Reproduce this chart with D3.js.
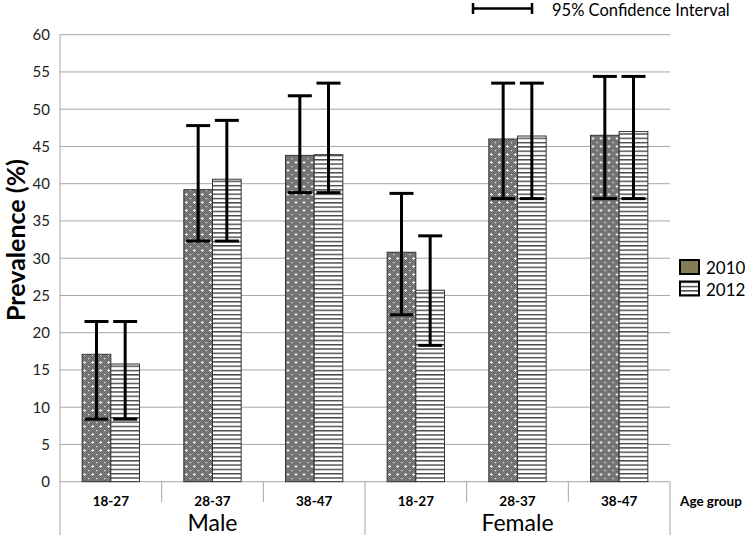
<!DOCTYPE html>
<html>
<head>
<meta charset="utf-8">
<script src="https://cdn.jsdelivr.net/npm/d3@7"></script>
<style>
body { margin: 0; background: #fff; }
svg { font-family: Lato, "Open Sans", sans-serif; }
</style>
</head>
<body>
<svg class="chart" width="745" height="535"></svg>
<script>
"use strict";
// data
var sexes = ["Male", "Female"];
var ageGroups = ["18-27", "28-37", "38-47", "18-27", "28-37", "38-47"];
var years = ["2010", "2012"];
var prev2010 = [17.1, 39.2, 43.8, 30.8, 46.0, 46.5];
var prev2012 = [15.8, 40.6, 43.9, 25.7, 46.4, 47.0];
var lo2010 = [8.4, 32.3, 38.8, 22.4, 38.0, 38.0];
var hi2010 = [21.5, 47.8, 51.8, 38.7, 53.5, 54.4];
var lo2012 = [8.4, 32.3, 38.8, 18.3, 38.0, 38.0];
var hi2012 = [21.5, 48.5, 53.5, 33.0, 53.5, 54.4];
var yTicks = [0, 5, 10, 15, 20, 25, 30, 35, 40, 45, 50, 55, 60];

var plotLeft = 60, plotRight = 670, plotTop = 34.7, plotBottom = 481.7;

var svg = d3.select(".chart");
var defs = svg.append("defs");

// dotted grey pattern for 2010
var p1 = defs.append("pattern").attr("id", "pat2010")
	.attr("patternUnits", "userSpaceOnUse").attr("width", 8).attr("height", 8);
p1.append("rect").attr("width", 8).attr("height", 8).attr("fill", "#8a8a8a");
for (var i = 0; i < 8; i++) {
	for (var j = 0; j < 8; j++) {
		if ((i + j) % 2 == 0) {
			p1.append("rect").attr("x", i).attr("y", j).attr("width", 1).attr("height", 1).attr("fill", "#5e5e5e");
		}
	}
}
p1.append("rect").attr("x", 1).attr("y", 2).attr("width", 3).attr("height", 1).attr("fill", "#f4f4f4");
p1.append("rect").attr("x", 2).attr("y", 1).attr("width", 1).attr("height", 3).attr("fill", "#f4f4f4");
p1.append("rect").attr("x", 6).attr("y", 6).attr("width", 1.2).attr("height", 1.2).attr("fill", "#e8e8e8");

// horizontal stripes for 2012
var p2 = defs.append("pattern").attr("id", "pat2012")
	.attr("patternUnits", "userSpaceOnUse").attr("width", 8).attr("height", 4.3);
p2.append("rect").attr("width", 8).attr("height", 4.3).attr("fill", "#fff");
p2.append("rect").attr("y", 0).attr("width", 8).attr("height", 1.4).attr("fill", "#444");

// scales
var x0 = d3.scaleBand().domain(d3.range(ageGroups.length))
	.range([plotLeft, plotRight]).paddingInner(0.436).paddingOuter(0.218);
var x1 = d3.scaleBand().domain(years).range([0, x0.bandwidth()]);
var y = d3.scaleLinear().domain([0, 60]).range([plotBottom, plotTop]);

// gridlines
svg.append("g").selectAll("line")
	.data(yTicks.slice(1))
	.enter().append("line")
	.attr("x1", plotLeft).attr("x2", plotRight)
	.attr("y1", function(d) { return y(d); })
	.attr("y2", function(d) { return y(d); })
	.attr("stroke", "#a6a6a6").attr("stroke-width", 1);

// y axis
var yAxis = svg.append("g")
	.attr("transform", "translate(" + plotLeft + ",0)")
	.call(d3.axisLeft(y).tickValues(yTicks).tickSize(0).tickPadding(10));
yAxis.select(".domain").remove();
yAxis.selectAll("text").attr("font-size", 15).attr("fill", "#222")
	.attr("font-family", "Lato, sans-serif");
svg.append("line").attr("x1", plotLeft).attr("x2", plotLeft).attr("y1", plotTop).attr("y2", 535)
	.attr("stroke", "#a6a6a6");

// x axis line and separators
svg.append("line").attr("x1", plotLeft).attr("x2", plotRight).attr("y1", plotBottom).attr("y2", plotBottom)
	.attr("stroke", "#a6a6a6");
svg.append("g").selectAll("line")
	.data(d3.range(1, ageGroups.length + 1))
	.enter().append("line")
	.attr("x1", function(d) { return plotLeft + d * x0.step(); })
	.attr("x2", function(d) { return plotLeft + d * x0.step(); })
	.attr("y1", plotBottom)
	.attr("y2", function(d) { return (d == 3 || d == 6) ? 535 : 502; })
	.attr("stroke", "#a6a6a6");

// bars
var rows = ageGroups.map(function(a, i) {
	return [
		{i: i, year: "2010", v: prev2010[i], lo: lo2010[i], hi: hi2010[i]},
		{i: i, year: "2012", v: prev2012[i], lo: lo2012[i], hi: hi2012[i]}
	];
});
var cat = svg.append("g").selectAll("g")
	.data(rows)
	.enter().append("g")
	.attr("transform", function(d, i) { return "translate(" + x0(i) + ",0)"; });
cat.selectAll("rect")
	.data(function(d) { return d; })
	.enter().append("rect")
	.attr("x", function(d) { return x1(d.year); })
	.attr("y", function(d) { return y(d.v); })
	.attr("width", x1.bandwidth())
	.attr("height", function(d) { return plotBottom - y(d.v); })
	.attr("fill", function(d) { return "url(#pat" + d.year + ")"; })
	.attr("stroke", "#333").attr("stroke-width", 1);

// error bars
var err = cat.selectAll("g.err")
	.data(function(d) { return d; })
	.enter().append("g").attr("class", "err");
var cx = function(d) { return x1(d.year) + x1.bandwidth() / 2; };
err.append("line")
	.attr("x1", cx).attr("x2", cx)
	.attr("y1", function(d) { return y(d.lo); })
	.attr("y2", function(d) { return y(d.hi); })
	.attr("stroke", "#000").attr("stroke-width", 3);
["lo", "hi"].forEach(function(k) {
	err.append("line")
		.attr("x1", function(d) { return cx(d) - 12; })
		.attr("x2", function(d) { return cx(d) + 12; })
		.attr("y1", function(d) { return y(d[k]); })
		.attr("y2", function(d) { return y(d[k]); })
		.attr("stroke", "#000").attr("stroke-width", 3);
});

// category labels
svg.append("g").selectAll("text")
	.data(ageGroups)
	.enter().append("text")
	.attr("x", function(d, i) { return x0(i) + x0.bandwidth() / 2; })
	.attr("y", 506)
	.attr("text-anchor", "middle")
	.attr("font-size", 13.5).attr("font-weight", "bold")
	.text(function(d) { return d; });
svg.append("g").selectAll("text")
	.data(sexes)
	.enter().append("text")
	.attr("x", function(d, i) { return plotLeft + (i * 3 + 1.5) * x0.step(); })
	.attr("y", 531)
	.attr("text-anchor", "middle")
	.attr("font-size", 23)
	.text(function(d) { return d; });
svg.append("text").attr("x", 680).attr("y", 506)
	.attr("font-size", 13.5).attr("font-weight", "bold").text("Age group");

// y title
svg.append("text")
	.attr("transform", "translate(25,240) rotate(-90)")
	.attr("text-anchor", "middle")
	.attr("font-size", 25).attr("font-weight", "bold")
	.text("Prevalence (%)");

// confidence interval legend
var ci = svg.append("g");
ci.append("line").attr("x1", 472).attr("x2", 532).attr("y1", 8.5).attr("y2", 8.5)
	.attr("stroke", "#000").attr("stroke-width", 2.5);
ci.append("line").attr("x1", 473).attr("x2", 473).attr("y1", 3).attr("y2", 14)
	.attr("stroke", "#000").attr("stroke-width", 2.5);
ci.append("line").attr("x1", 532).attr("x2", 532).attr("y1", 3).attr("y2", 14)
	.attr("stroke", "#000").attr("stroke-width", 2.5);
ci.append("text").attr("x", 552).attr("y", 16).attr("font-size", 16.5)
	.text("95% Confidence Interval");

// year legend
var legFill = ["#837c52", "url(#pat2012)"];
var leg = svg.append("g").selectAll("g")
	.data(years)
	.enter().append("g")
	.attr("transform", function(d, i) { return "translate(680," + (260 + i * 21.5) + ")"; });
leg.append("rect")
	.attr("width", 19).attr("height", 14)
	.attr("fill", function(d, i) { return legFill[i]; })
	.attr("stroke", "#000").attr("stroke-width", 2);
leg.append("text")
	.attr("x", 26).attr("y", 14)
	.attr("font-size", 17)
	.text(function(d) { return d; });
</script>
</body>
</html>
